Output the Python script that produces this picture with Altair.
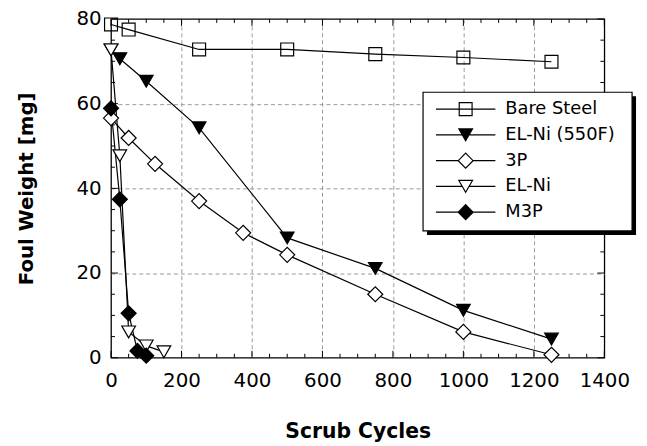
import altair as alt
import pandas as pd

# ---------------- data ----------------
series_names = ["Bare Steel", "EL-Ni (550F)", "3P", "EL-Ni", "M3P"]

bare_x = [0, 50, 250, 500, 750, 1000, 1250]
bare_y = [78.7, 77.5, 72.8, 72.8, 71.7, 70.9, 69.9]

elni550_x = [0, 25, 100, 250, 500, 750, 1000, 1250]
elni550_y = [72.7, 70.6, 65.3, 54.3, 28.3, 21.1, 11.2, 4.4]

p3_x = [0, 50, 125, 250, 375, 500, 750, 1000, 1250]
p3_y = [56.6, 51.9, 45.8, 37.0, 29.5, 24.3, 15.0, 6.1, 0.7]

elni_x = [0, 25, 50, 100, 150]
elni_y = [72.7, 47.7, 6.1, 2.8, 1.4]

m3p_x = [0, 25, 50, 75, 100]
m3p_y = [58.9, 37.4, 10.5, 1.6, 0.5]

x_ticks = [0, 200, 400, 600, 800, 1000, 1200, 1400]
y_ticks = [0, 20, 40, 60, 80]
x_grid = [200, 400, 600, 800, 1000, 1200]
y_grid = [20, 40, 60]
x_minor = [v for v in range(50, 1400, 50) if v % 200 != 0]
y_minor = [v for v in range(5, 80, 5) if v % 20 != 0]

x_title = "Scrub Cycles"
y_title = "Foul Weight [mg]"

rows = []
for name, xs, ys in zip(series_names,
                        [bare_x, elni550_x, p3_x, elni_x, m3p_x],
                        [bare_y, elni550_y, p3_y, elni_y, m3p_y]):
    for xv, yv in zip(xs, ys):
        rows.append({"series": name, "x": xv, "y": yv})
df = pd.DataFrame(rows)

# ---------------- styles ----------------
FONT = "DejaVu Sans"
W, H = 498, 342
MAJ, MIN = 7, 4

styles = {
    "Bare Steel": dict(shape="square", fill="transparent", size=170),
    "EL-Ni (550F)": dict(shape="triangle-down", fill="black", size=190),
    "3P": dict(shape="diamond", fill="white", size=230),
    "EL-Ni": dict(shape="triangle-down", fill="white", size=190),
    "M3P": dict(shape="diamond", fill="black", size=230),
}
# legend symbols: line + marker, shifted right by ~5px (0.167 unit)
legend_paths = [
    "M-0.833,0H1.167M-0.05,-0.217H0.383V0.217H-0.05Z",
    "M-0.833,0H0.052M0.282,0H1.167M0.167,0.2L0.397,-0.2L-0.063,-0.2Z",
    "M-0.833,0H-0.083M0.417,0H1.167M0.167,-0.25L0.417,0L0.167,0.25L-0.083,0Z",
    "M-0.833,0H0.052M0.282,0H1.167M0.167,0.2L0.397,-0.2L-0.063,-0.2Z",
    "M-0.833,0H-0.083M0.417,0H1.167M0.167,-0.25L0.417,0L0.167,0.25L-0.083,0Z",
]
legend_fills = [styles[n]["fill"] for n in series_names]

X_SCALE = alt.Scale(domain=[0, 1400], nice=False, zero=False)
Y_SCALE = alt.Scale(domain=[0, 80], nice=False, zero=False)

main_x = alt.Axis(orient="bottom", values=x_ticks, ticks=False, tickSize=0, domain=False,
                  grid=False, labelFont=FONT, labelFontSize=20, labelColor="black",
                  labelPadding=13, labelFlush=False, labelOverlap=False, format="d",
                  title=x_title, titleFont=FONT, titleFontSize=20.5, titleFontWeight="bold",
                  titleColor="black", titleX=W / 2, titleY=81, titleAlign="center",
                  titleBaseline="alphabetic")
main_y = alt.Axis(orient="left", values=y_ticks, ticks=False, tickSize=0, domain=False,
                  grid=False, labelFont=FONT, labelFontSize=20, labelColor="black",
                  labelPadding=10, labelFlush=False, labelOverlap=False, format="d",
                  title=y_title, titleFont=FONT, titleFontSize=20, titleFontWeight="bold",
                  titleColor="black", titleX=-85, titleY=H / 2, titleAngle=270,
                  titleAlign="center", titleBaseline="middle")

grid_x = alt.Axis(orient="bottom", values=x_grid, grid=True, gridDash=[4, 3],
                  gridColor="#9a9a9a", gridWidth=1, ticks=False, labels=False,
                  domain=False, title=None)
grid_y = alt.Axis(orient="left", values=y_grid, grid=True, gridDash=[4, 3],
                  gridColor="#9a9a9a", gridWidth=1, ticks=False, labels=False,
                  domain=False, title=None)

# grid layer (carries only the dashed grid axes)
grid_layer = alt.Chart(df).transform_filter("false").mark_point().encode(
    x=alt.X("x:Q", scale=X_SCALE, axis=grid_x),
    y=alt.Y("y:Q", scale=Y_SCALE, axis=grid_y),
)

lines = alt.Chart(df).mark_line(color="black", strokeWidth=1.2).encode(
    x=alt.X("x:Q", scale=X_SCALE, axis=main_x),
    y=alt.Y("y:Q", scale=Y_SCALE, axis=main_y),
    detail="series:N",
)


# inward tick marks on all four sides, positioned by the x / y scales
def x_tick_rules(vals, y0, y1):
    return alt.Chart(pd.DataFrame({"v": vals})).mark_rule(color="black", strokeWidth=1).encode(
        x=alt.X("v:Q", scale=X_SCALE, axis=None), y=alt.value(y0), y2=alt.value(y1))


def y_tick_rules(vals, x0, x1):
    return alt.Chart(pd.DataFrame({"v": vals})).mark_rule(color="black", strokeWidth=1).encode(
        y=alt.Y("v:Q", scale=Y_SCALE, axis=None), x=alt.value(x0), x2=alt.value(x1))


tick_layers = [
    x_tick_rules(x_ticks, H - MAJ, H), x_tick_rules(x_ticks, 0, MAJ),
    x_tick_rules(x_minor, H - MIN, H), x_tick_rules(x_minor, 0, MIN),
    y_tick_rules(y_ticks, 0, MAJ), y_tick_rules(y_ticks, W - MAJ, W),
    y_tick_rules(y_minor, 0, MIN), y_tick_rules(y_minor, W - MIN, W),
]

point_layers = []
for name in series_names:
    st = styles[name]
    point_layers.append(
        alt.Chart(df).transform_filter(alt.datum.series == name)
        .mark_point(shape=st["shape"], fill=st["fill"], stroke="black", strokeWidth=1.2,
                    size=st["size"], opacity=1, fillOpacity=1)
        .encode(x=alt.X("x:Q", scale=X_SCALE, axis=None),
                y=alt.Y("y:Q", scale=Y_SCALE, axis=None))
    )

one = pd.DataFrame({"k": [0]})
shadow = alt.Chart(one).mark_rect(color="black").encode(
    x=alt.value(319), x2=alt.value(530), y=alt.value(78), y2=alt.value(218))
box = alt.Chart(one).mark_rect(fill="white", stroke="black", strokeWidth=1.2).encode(
    x=alt.value(315), x2=alt.value(526), y=alt.value(74), y2=alt.value(214))

leg = alt.Legend(title=None, orient="none", legendX=315, legendY=74, padding=7,
                 labelOffset=14, clipHeight=20, rowPadding=6,
                 symbolSize=3600, symbolStrokeWidth=1.2, symbolStrokeColor="black",
                 labelFont=FONT, labelFontSize=18, labelColor="black", labelLimit=300)

legend_layer = alt.Chart(df).transform_filter("false").mark_point(
    stroke="black", strokeWidth=1.2, size=3600, opacity=1).encode(
    x=alt.X("x:Q", scale=X_SCALE, axis=None),
    y=alt.Y("y:Q", scale=Y_SCALE, axis=None),
    shape=alt.Shape("series:N", scale=alt.Scale(domain=series_names, range=legend_paths),
                    legend=leg),
    fill=alt.Fill("series:N", scale=alt.Scale(domain=series_names, range=legend_fills),
                  legend=leg),
    stroke=alt.Stroke("series:N", scale=alt.Scale(domain=series_names,
                                                   range=["black"] * len(series_names)),
                      legend=leg),
)

chart = alt.layer(grid_layer, lines, *tick_layers, *point_layers, shadow, box,
                  legend_layer).resolve_axis(
    x="independent", y="independent"
).properties(
    width=W, height=H,
    autosize=alt.AutoSizeParams(type="none"),
    padding={"left": 104, "top": 9, "right": 35, "bottom": 86},
).configure_view(stroke="black", strokeWidth=1.3)

chart.save("out.html", embed_options={"renderer": "svg", "actions": False})
